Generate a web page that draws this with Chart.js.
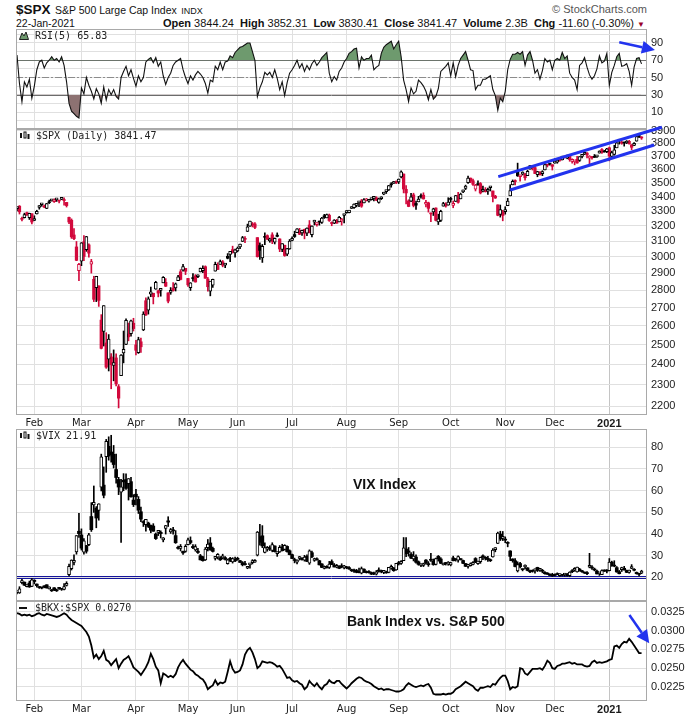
<!DOCTYPE html>
<html>
<head>
<meta charset="utf-8">
<script src="https://cdn.jsdelivr.net/npm/chart.js@4.4.1/dist/chart.umd.min.js"></script>
<style>
  body { margin: 0; width: 700px; height: 717px; position: relative; overflow: hidden; background: #fff;
         font-family: "Liberation Sans", Arial, sans-serif; color: #111; }
  canvas { position: absolute; left: 0; }
  .t { position: absolute; white-space: nowrap; line-height: 14px; }
  .leg { position: absolute; white-space: nowrap; font: 10px "DejaVu Sans Mono", monospace; color: #222; line-height: 12px; }
  .note { position: absolute; white-space: nowrap; font: bold 14px "Liberation Sans", Arial, sans-serif; color: #111; line-height: 16px; }
</style>
</head>
<body>

<div class="t" style="left:16px; top:2px;"><b style="font-size:13.5px">$SPX</b> <span style="font-size:10.5px">S&amp;P 500 Large Cap Index</span> <span style="font-size:9px">INDX</span></div>
<div class="t" style="right:53px; top:2px; font-size:11px; color:#555;">&copy; StockCharts.com</div>
<div class="t" style="left:16px; top:16px; font-size:10.5px;">22-Jan-2021</div>
<div class="t" style="right:55px; top:16px; font-size:11px;"><b>Open</b> 3844.24 &nbsp;<b>High</b> 3852.31 &nbsp;<b>Low</b> 3830.41 &nbsp;<b>Close</b> 3841.47 &nbsp;<b>Volume</b> 2.3B &nbsp;<b>Chg</b> -11.60 (-0.30%) <span style="color:#99002a; font-size:8px;">&#9660;</span></div>

<canvas id="rsi" width="700" height="124" style="top:17px"></canvas>
<canvas id="spx" width="700" height="314" style="top:117px"></canvas>
<canvas id="vix" width="700" height="196" style="top:417px"></canvas>
<canvas id="bkx" width="700" height="128" style="top:589px"></canvas>

<div class="leg" style="left:19px; top:30px;"><svg width="10" height="9" style="vertical-align:-1px"><polygon points="0.5,8.5 3,2 5,5 7,1 9.5,8.5" fill="#6e9a6e" stroke="#222" stroke-width="1"/></svg> RSI(5) 65.83</div>
<div class="leg" style="left:19px; top:130px;"><svg width="11" height="9" style="vertical-align:-1px"><rect x="1" y="2" width="2" height="5" fill="#111"/><rect x="5" y="1" width="2" height="6" fill="none" stroke="#111" stroke-width="1"/><rect x="8.5" y="3" width="2" height="5" fill="#111"/></svg> $SPX (Daily) 3841.47</div>
<div class="leg" style="left:19px; top:430px;"><svg width="11" height="9" style="vertical-align:-1px"><rect x="1" y="2" width="2" height="5" fill="#111"/><rect x="5" y="1" width="2" height="6" fill="none" stroke="#111" stroke-width="1"/><rect x="8.5" y="3" width="2" height="5" fill="#111"/></svg> $VIX 21.91</div>
<div class="leg" style="left:19px; top:602px;"><svg width="10" height="9" style="vertical-align:-1px"><rect x="0" y="4" width="8" height="2" fill="#111"/></svg> $BKX:$SPX 0.0270</div>

<div class="note" style="left:353px; top:476px;">VIX Index</div>
<div class="note" style="left:347px; top:613px;">Bank Index vs. S&amp;P 500</div>

<script>
// Trading days 23-Jan-2020 .. 22-Jan-2021, one bar per day (index 0..252)
const monthStart  = [7, 26, 48, 69, 89, 111, 133, 154, 175, 197, 217, 239];
const monthLabels = ['Feb', 'Mar', 'Apr', 'May', 'Jun', 'Jul', 'Aug', 'Sep', 'Oct', 'Nov', 'Dec', '2021'];

// RSI(5) of $SPX
const rsi5 = [
  76,43,22,45,39,48,26,
  40,59,68,70,61,67,70,74,70,72,68,74,64,45,20,11,8,5,3,
  38,31,50,41,34,25,37,31,20,39,24,36,30,36,28,25,50,57,63,52,59,49,
  40,52,45,50,68,71,73,67,73,63,68,52,42,50,55,64,68,70,72,59,50,
  43,52,47,53,57,54,50,43,32,47,45,63,59,68,59,68,69,75,73,79,
  82,85,86,88,90,90,80,70,28,38,45,56,53,56,50,59,49,36,45,29,44,55,
  59,64,70,61,66,57,64,59,66,70,64,68,73,76,79,55,45,51,47,57,61,68,
  72,78,80,83,84,61,74,70,72,72,76,59,62,64,78,85,88,90,92,83,88,
  92,74,47,36,22,38,31,34,47,44,40,34,24,36,25,28,37,57,60,63,67,
  52,67,51,64,72,76,80,70,59,58,36,41,41,48,48,50,52,36,29,12,26,22,
  34,59,71,77,77,79,77,80,64,76,80,70,55,59,48,58,72,68,70,59,
  70,72,70,79,72,75,55,50,47,36,64,67,73,62,53,48,52,60,75,67,69,78,
  41,56,64,74,78,63,64,66,57,41,62,72,73,65.83
];
const rsiLevels = [70, 50, 30];
const rsiTicks = [0, 10, 20, 30, 40, 50, 60, 70, 80, 90, 100];

// $SPX daily [open, high, low, close]
const spxOHLC = [
  [3317,3327,3302,3326],[3334,3338,3280,3295],[3248,3259,3234,3244],[3255,3286,3253,3276],[3289,3293,3271,3273],[3256,3286,3243,3284],[3282,3282,3214,3226],
  [3236,3268,3236,3249],[3280,3306,3280,3298],[3325,3338,3313,3335],[3344,3348,3333,3346],[3336,3342,3323,3328],[3319,3353,3317,3352],[3365,3376,3352,3358],
  [3371,3381,3369,3379],[3365,3385,3360,3374],[3378,3381,3367,3380],[3370,3375,3356,3370],[3381,3394,3379,3386],[3380,3393,3341,3373],[3360,3360,3328,3338],
  [3257,3259,3215,3226],[3238,3247,3118,3128],[3140,3183,3109,3116],[3063,3098,2977,2979],[2916,2960,2855,2954],
  [2974,3091,2946,3090],[3096,3137,2977,3003],[3046,3131,3035,3130],[3076,3083,2999,3024],[2955,2985,2901,2972],[2864,2882,2734,2747],[2814,2882,2734,2882],
  [2825,2825,2707,2741],[2631,2661,2478,2481],[2570,2711,2493,2711],[2509,2563,2380,2386],[2426,2553,2367,2529],[2437,2454,2281,2398],[2394,2473,2319,2409],
  [2432,2453,2295,2305],[2291,2301,2192,2237],[2344,2449,2344,2447],[2458,2572,2407,2476],[2501,2638,2500,2630],[2556,2615,2520,2541],[2558,2631,2545,2627],
  [2614,2641,2572,2585],
  [2499,2523,2447,2471],[2459,2539,2455,2527],[2515,2534,2460,2489],[2578,2677,2574,2664],[2739,2756,2657,2659],[2686,2761,2664,2750],[2776,2818,2762,2790],
  [2782,2782,2721,2762],[2805,2852,2805,2846],[2796,2801,2761,2783],[2799,2807,2765,2800],[2843,2880,2843,2875],[2846,2868,2821,2823],[2784,2785,2727,2737],
  [2787,2815,2776,2799],[2810,2844,2794,2798],[2813,2842,2795,2837],[2855,2887,2855,2878],[2909,2922,2860,2863],[2918,2955,2913,2940],[2930,2930,2892,2912],
  [2869,2869,2822,2831],[2815,2844,2798,2843],[2868,2898,2853,2868],[2884,2892,2847,2848],[2879,2891,2873,2881],[2908,2932,2908,2930],[2915,2945,2904,2930],
  [2940,2945,2870,2870],[2865,2875,2794,2820],[2794,2852,2767,2853],[2829,2865,2816,2864],[2913,2968,2913,2954],[2949,2964,2922,2923],[2954,2981,2954,2972],
  [2970,2978,2939,2949],[2949,2957,2934,2955],[3004,3021,2988,2992],[3016,3036,2970,3036],[3046,3068,3024,3030],[3026,3050,2999,3044],
  [3038,3063,3032,3056],[3064,3081,3052,3081],[3098,3131,3098,3123],[3112,3129,3090,3112],[3163,3212,3163,3194],[3199,3233,3197,3232],[3213,3223,3193,3207],
  [3213,3223,3182,3190],[3123,3123,2999,3002],[3072,3089,2984,3041],[2994,3079,2966,3067],[3131,3154,3077,3125],[3136,3141,3109,3113],[3101,3120,3093,3115],
  [3141,3155,3084,3098],[3094,3121,3082,3118],[3139,3154,3128,3131],[3114,3116,3033,3050],[3047,3084,3033,3084],[3074,3074,3004,3009],[3018,3054,3008,3053],
  [3050,3111,3048,3100],
  [3105,3128,3101,3116],[3143,3165,3124,3130],[3155,3182,3155,3180],[3166,3184,3142,3145],[3154,3172,3137,3170],[3177,3179,3115,3152],[3152,3187,3136,3185],
  [3206,3236,3154,3155],[3142,3200,3128,3198],[3225,3238,3206,3227],[3208,3221,3198,3216],[3225,3233,3205,3225],[3224,3258,3216,3252],[3268,3278,3250,3257],
  [3254,3280,3254,3276],[3272,3280,3230,3236],[3219,3227,3201,3216],[3219,3242,3215,3239],[3234,3244,3218,3218],[3227,3264,3227,3258],[3232,3251,3205,3246],
  [3270,3272,3220,3271],
  [3289,3303,3285,3295],[3289,3306,3287,3307],[3318,3330,3318,3328],[3323,3351,3318,3349],[3340,3353,3329,3351],[3357,3364,3331,3360],[3370,3381,3326,3334],
  [3356,3387,3356,3380],[3372,3388,3370,3373],[3368,3378,3362,3373],[3380,3388,3376,3382],[3388,3395,3371,3390],[3392,3400,3372,3375],[3360,3391,3355,3386],
  [3386,3400,3380,3397],[3419,3432,3414,3431],[3436,3444,3423,3444],[3449,3481,3444,3479],[3486,3501,3468,3485],[3495,3510,3496,3508],[3509,3514,3494,3500],
  [3507,3528,3494,3527],[3543,3588,3535,3581],[3564,3565,3427,3455],[3453,3479,3349,3427],[3371,3379,3330,3332],[3369,3425,3366,3399],[3413,3425,3329,3339],
  [3353,3369,3311,3341],[3364,3403,3364,3384],[3408,3420,3389,3401],[3411,3428,3383,3385],[3347,3375,3328,3357],[3357,3362,3293,3319],[3285,3286,3229,3281],
  [3295,3320,3270,3316],[3321,3323,3233,3237],[3226,3279,3209,3247],[3236,3306,3229,3298],[3334,3361,3334,3352],[3350,3358,3327,3335],[3341,3393,3341,3363],
  [3385,3397,3361,3381],[3339,3370,3323,3348],[3367,3409,3367,3409],[3408,3432,3354,3361],[3385,3426,3385,3419],[3434,3447,3428,3447],[3459,3483,3451,3477],
  [3500,3550,3496,3534],[3534,3535,3501,3512],[3515,3527,3480,3489],[3453,3489,3441,3483],[3494,3515,3482,3484],[3494,3502,3420,3427],[3439,3476,3435,3443],
  [3440,3465,3433,3436],[3439,3461,3416,3453],[3464,3466,3441,3465],[3441,3441,3364,3401],[3404,3410,3388,3391],[3343,3343,3268,3271],[3278,3342,3259,3310],
  [3293,3305,3234,3270],
  [3296,3330,3279,3310],[3337,3389,3337,3369],[3406,3486,3406,3443],[3485,3521,3485,3510],[3509,3521,3484,3509],[3583,3646,3547,3551],[3544,3557,3511,3546],
  [3564,3581,3557,3573],[3563,3569,3519,3537],[3553,3593,3553,3585],[3601,3628,3601,3627],[3610,3624,3594,3610],[3612,3619,3567,3568],[3559,3585,3544,3582],
  [3580,3581,3557,3558],[3567,3589,3552,3578],[3594,3643,3594,3635],[3635,3635,3617,3630],[3639,3644,3630,3638],[3634,3634,3594,3622],
  [3645,3679,3645,3662],[3654,3670,3645,3669],[3669,3683,3660,3667],[3671,3699,3670,3699],[3694,3698,3684,3692],[3683,3708,3679,3702],[3705,3712,3660,3673],
  [3659,3678,3645,3668],[3656,3665,3633,3663],[3675,3698,3645,3647],[3666,3695,3659,3695],[3697,3711,3685,3701],[3714,3725,3711,3722],[3723,3726,3685,3709],
  [3684,3703,3637,3695],[3693,3698,3676,3687],[3693,3712,3689,3690],[3694,3704,3689,3703],[3723,3741,3723,3735],[3751,3757,3720,3727],[3737,3744,3730,3732],
  [3734,3760,3726,3756],
  [3764,3770,3663,3701],[3698,3738,3696,3727],[3712,3784,3706,3748],[3764,3812,3764,3804],[3816,3827,3793,3825],[3803,3818,3792,3800],[3801,3810,3777,3801],
  [3802,3821,3797,3810],[3815,3823,3792,3796],[3788,3789,3749,3768],[3782,3805,3780,3799],[3816,3860,3816,3852],[3857,3861,3845,3853],[3844.24,3852.31,3830.41,3841.47]
];
const spxTicks = [2200,2300,2400,2500,2600,2700,2800,2900,3000,3100,3200,3300,3400,3500,3600,3700,3800,3900];
// hand-drawn channel, [bar index, price]
const channelUpper = [[194.2, 3545], [260.2, 3928]];
const channelLower = [[199.0, 3448], [257.1, 3786]];

// $VIX daily [open, high, low, close]
const vixOHLC = [
  [12.9,13.6,12.3,13.0],[12.7,15.6,12.5,14.6],[17.5,19.0,16.9,18.2],[17.7,17.8,16.1,16.3],[15.6,16.5,15.5,16.4],[17.3,18.2,15.3,15.5],[15.7,19.4,15.6,18.8],
  [18.6,18.8,16.9,18.0],[16.8,16.9,15.4,16.1],[15.3,15.7,14.8,15.2],[15.0,15.4,14.6,15.0],[15.6,16.1,15.1,15.5],[16.5,16.5,15.0,15.0],[14.6,15.5,14.5,15.2],
  [14.2,14.3,13.4,13.7],[15.1,15.2,13.8,14.2],[14.0,14.5,13.4,13.7],[14.9,15.3,14.4,14.8],[14.4,14.6,13.9,14.4],[14.4,17.0,14.1,15.6],[16.2,17.9,15.9,17.1],
  [21.1,26.0,20.6,25.0],[23.9,28.0,23.3,27.9],[26.8,30.3,25.6,27.6],[31.6,39.2,30.6,39.2],[41.2,49.5,38.4,40.1],
  [39.5,42.3,32.5,33.4],[31.5,37.8,30.6,36.8],[34.6,34.7,31.1,32.0],[35.0,40.2,34.5,39.6],[48.0,54.4,41.1,41.9],[53.3,62.1,49.9,54.5],[51.9,52.6,42.8,47.3],
  [50.8,53.9,46.3,53.9],[61.5,76.8,59.8,75.5],[62.5,70.9,56.6,57.8],[75.6,83.6,68.4,82.7],[80.4,84.8,74.0,75.9],[77.8,85.5,73.1,76.5],[76.7,80.8,70.4,72.0],
  [69.7,76.8,63.4,66.0],[65.1,66.1,58.1,61.6],[59.2,65.2,36.0,61.7],[64.7,67.8,59.9,64.0],[65.1,67.7,60.5,61.0],[63.2,65.5,55.6,65.5],[64.1,66.1,56.9,57.1],
  [55.6,58.1,52.6,53.5],
  [58.3,60.6,53.4,57.1],[55.9,57.2,49.4,50.9],[50.2,52.4,45.6,46.8],[45.6,46.1,43.4,45.2],[44.2,46.7,41.2,46.7],[45.0,45.4,42.9,43.4],[43.9,44.1,40.5,41.7],
  [43.6,44.7,41.2,41.2],[39.9,40.4,37.4,37.8],[40.7,41.6,39.2,40.8],[40.7,41.4,38.1,40.1],[37.2,38.3,36.3,38.2],[42.5,43.9,39.9,43.8],[46.0,47.9,43.4,45.4],
  [40.9,42.5,40.2,42.0],[41.4,43.0,39.9,41.4],[39.2,41.5,35.6,35.9],[33.8,34.3,32.9,33.3],[33.3,35.1,32.1,33.6],[31.9,32.0,30.5,31.2],[31.9,35.0,31.5,34.2],
  [35.0,38.0,34.9,37.2],[36.9,38.6,35.3,36.0],[34.2,35.0,33.2,33.6],[32.6,35.0,32.0,34.1],[32.0,33.3,31.0,31.4],[29.9,30.5,27.9,28.0],[29.3,29.6,27.4,27.6],
  [28.0,33.7,27.7,33.0],[33.6,37.4,32.1,35.3],[35.8,38.3,32.4,32.6],[33.3,33.9,31.6,31.9],[28.7,29.5,27.9,29.3],[29.2,30.9,28.4,30.5],[28.9,29.5,27.7,28.0],
  [28.9,30.6,28.4,29.5],[29.0,29.5,27.9,28.2],[26.2,28.4,26.0,28.0],[28.7,29.2,27.1,27.6],[27.0,29.0,26.5,28.6],[28.2,29.3,27.2,27.5],
  [28.7,29.2,27.8,28.2],[27.6,27.8,26.8,26.8],[26.7,27.2,25.2,25.7],[25.9,27.3,25.5,25.8],[24.1,25.0,23.9,24.5],[25.7,26.2,24.1,25.8],[26.7,28.1,26.1,27.6],
  [26.9,28.1,26.8,27.6],[30.1,41.1,29.8,40.8],[38.7,44.4,34.8,36.1],[39.1,43.8,33.6,34.4],[31.4,35.9,31.2,33.7],[32.9,34.2,32.0,33.5],[33.5,34.5,32.3,32.9],
  [32.3,35.9,31.7,35.1],[34.4,34.5,31.6,31.8],[30.9,31.6,29.6,31.4],[31.6,34.6,31.4,33.8],[34.0,35.2,32.1,32.2],[32.8,35.0,32.5,34.7],[34.2,34.5,31.5,31.8],
  [32.2,32.6,30.3,30.4],
  [30.4,30.7,28.5,28.6],[28.0,28.8,26.6,27.7],[26.9,28.0,26.1,27.9],[28.6,29.6,27.9,29.4],[28.7,29.0,27.9,28.1],[27.8,30.1,27.4,29.3],[29.6,30.3,27.2,27.3],
  [26.5,32.6,25.9,32.2],[31.3,32.0,29.0,29.5],[27.7,28.8,27.3,27.8],[28.4,28.9,27.8,28.0],[27.6,27.8,25.6,25.7],[26.1,26.3,24.4,24.5],[24.0,25.2,23.8,24.8],
  [25.0,25.3,24.2,24.3],[24.5,27.3,24.0,26.1],[27.2,28.0,25.8,25.8],[25.6,26.3,24.7,24.7],[24.6,25.9,24.3,25.4],[25.1,25.3,23.9,24.1],[25.3,26.2,24.3,24.8],
  [24.3,25.5,23.8,24.5],
  [24.6,25.0,23.9,24.3],[24.4,24.9,23.6,23.8],[23.5,23.7,22.6,23.0],[23.3,23.7,22.2,22.7],[23.1,23.6,22.0,22.2],[22.6,24.2,22.0,22.1],[21.9,24.7,21.5,24.0],
  [23.7,23.8,22.1,22.3],[22.2,22.9,21.9,22.1],[22.6,23.0,21.9,22.1],[22.1,22.4,21.2,21.4],[21.5,22.4,21.1,21.5],[21.4,23.1,21.0,22.5],[23.3,24.3,22.3,22.7],
  [22.5,23.3,22.0,22.5],[22.2,23.1,21.6,22.4],[22.4,22.8,21.8,22.0],[22.2,24.5,22.0,24.5],[24.1,25.6,23.6,24.5],[24.2,24.5,22.7,23.0],[23.4,26.4,23.2,26.4],
  [26.7,27.3,25.6,26.1],[26.4,27.7,25.9,26.6],[27.6,38.3,27.6,33.6],[33.0,38.3,29.5,30.8],[32.1,33.7,29.7,31.5],[30.5,31.3,28.5,28.8],[28.4,31.8,27.5,29.7],
  [29.3,30.3,26.5,26.9],[27.1,27.5,25.5,25.9],[25.4,26.0,24.9,25.6],[25.4,26.5,24.9,26.0],[27.9,28.1,26.0,26.5],[26.2,27.2,25.0,25.8],[27.9,31.0,27.3,27.8],
  [27.4,28.4,25.5,25.8],[25.9,28.8,25.6,28.6],[29.6,30.0,27.4,28.5],[28.4,29.0,26.3,26.4],[25.6,26.5,25.6,26.2],[26.4,26.8,25.6,26.3],[26.0,27.2,25.5,26.4],
  [25.7,26.9,25.2,26.7],[28.9,29.7,27.5,27.6],[28.5,28.6,27.4,28.0],[27.9,29.8,26.9,29.5],[28.5,28.6,27.9,28.1],[27.7,27.9,26.2,26.4],[26.3,26.3,24.9,25.0],
  [25.0,25.4,24.2,25.1],[25.3,26.6,25.1,26.1],[25.9,27.2,25.7,26.4],[28.6,29.0,26.7,27.0],[26.2,27.4,25.9,27.4],[27.1,29.3,26.4,29.2],[29.4,30.3,28.1,29.4],
  [29.0,29.5,27.9,28.7],[28.7,29.6,27.3,28.1],[28.0,28.4,27.2,27.6],[29.4,33.2,29.2,32.5],[32.7,33.6,31.7,33.4],[35.6,40.8,35.5,40.3],[39.9,41.2,36.9,37.6],
  [37.9,41.1,36.9,38.0],
  [37.2,38.6,35.9,37.1],[35.9,36.4,34.0,35.6],[32.1,32.2,27.6,29.6],[28.4,28.5,26.9,27.6],[27.6,28.6,24.7,24.9],[22.9,27.1,22.4,25.8],[26.3,26.8,24.3,24.8],
  [23.6,23.8,22.9,23.5],[24.7,25.7,23.8,25.4],[24.3,24.4,22.9,23.1],[22.5,23.3,22.1,22.5],[22.7,23.4,22.3,22.7],[22.9,23.9,21.8,23.8],[24.5,24.6,22.6,23.1],
  [23.2,24.0,22.7,23.7],[22.7,23.6,22.0,22.7],[22.2,22.6,21.4,21.6],[21.9,22.1,21.3,21.3],[21.4,21.5,20.8,20.8],[21.2,21.8,20.3,20.6],
  [20.9,21.5,20.5,20.8],[21.6,22.0,21.1,21.2],[20.7,21.5,20.3,21.3],[21.1,21.3,20.5,20.8],[21.0,21.4,20.4,21.3],[21.5,21.7,20.4,20.7],[20.7,22.5,20.2,22.3],
  [23.0,23.5,22.1,22.5],[23.2,24.4,22.7,23.3],[22.4,24.7,22.3,24.7],[23.7,24.1,22.8,22.9],[22.5,23.2,22.2,22.5],[22.0,22.4,21.7,21.9],[22.1,22.6,21.2,21.6],
  [24.6,31.0,24.3,25.2],[24.5,25.4,23.6,24.2],[23.7,24.2,22.9,23.3],[22.8,23.3,21.5,21.5],[21.5,21.9,20.8,21.7],[21.2,23.4,21.1,23.1],[23.3,23.4,22.6,22.8],
  [23.0,23.5,22.0,22.8],
  [23.0,28.6,22.9,27.0],[26.9,27.4,25.0,25.3],[25.5,27.6,24.8,25.1],[24.4,24.9,22.3,22.4],[22.5,23.1,21.5,21.6],[23.5,24.6,22.6,24.1],[24.1,25.0,23.3,23.3],
  [23.1,23.3,22.1,22.2],[22.2,23.3,21.9,23.3],[24.0,25.8,23.9,24.3],[23.6,24.0,22.9,23.2],[22.2,22.4,21.4,21.6],[21.4,21.8,20.6,21.3],[21.9,23.2,21.6,21.91]
];
const vixTicks = [20, 30, 40, 50, 60, 70, 80];
const vixLines = [20.7, 19.5];

// $BKX:$SPX ratio, daily close
const bkxSpx = [
  .0323,.0322,.0320,.0321,.0320,.0321,.0319,
  .0320,.0322,.0323,.0321,.0320,.0322,.0321,.0320,.0319,.0318,.0319,.0321,.0323,.0321,.0317,.0314,.0312,.0310,.0308,
  .0306,.0302,.0298,.0292,.0280,.0264,.0268,.0262,.0266,.0273,.0261,.0259,.0254,.0258,.0262,.0250,.0256,.0261,.0263,.0266,.0259,.0251,
  .0248,.0245,.0241,.0246,.0251,.0258,.0269,.0262,.0252,.0247,.0230,.0243,.0241,.0238,.0240,.0238,.0242,.0251,.0257,.0261,.0256,
  .0252,.0248,.0246,.0242,.0240,.0237,.0235,.0230,.0222,.0225,.0227,.0234,.0228,.0231,.0230,.0232,.0245,.0259,.0249,.0244,
  .0245,.0247,.0255,.0268,.0274,.0277,.0271,.0262,.0250,.0253,.0259,.0258,.0257,.0258,.0257,.0255,.0252,.0253,.0249,.0243,.0237,.0238,
  .0234,.0232,.0233,.0230,.0228,.0222,.0225,.0233,.0229,.0226,.0230,.0225,.0222,.0227,.0229,.0234,.0231,.0230,.0233,.0233,.0229,.0226,
  .0223,.0226,.0230,.0233,.0236,.0238,.0237,.0234,.0232,.0231,.0229,.0226,.0224,.0222,.0223,.0221,.0222,.0222,.0221,.0220,.0219,
  .0219,.0220,.0222,.0227,.0230,.0228,.0226,.0225,.0226,.0227,.0226,.0228,.0229,.0224,.0216,.0215,.0215,.0215,.0216,.0215,.0216,
  .0216,.0218,.0222,.0224,.0226,.0229,.0232,.0230,.0228,.0226,.0222,.0220,.0224,.0224,.0225,.0226,.0225,.0229,.0228,.0233,.0237,.0240,
  .0240,.0233,.0222,.0225,.0224,.0226,.0250,.0249,.0243,.0241,.0245,.0249,.0249,.0249,.0250,.0248,.0253,.0260,.0257,.0250,
  .0249,.0253,.0254,.0256,.0256,.0257,.0258,.0256,.0257,.0255,.0255,.0255,.0253,.0252,.0253,.0258,.0260,.0257,.0258,.0257,.0258,.0259,
  .0261,.0262,.0279,.0280,.0277,.0282,.0285,.0284,.0289,.0285,.0280,.0275,.0270,.0270
];
const bkxTicks = [0.0225, 0.0250, 0.0275, 0.0300, 0.0325];

// arrows drawn on the chart, [bar index, value]
const rsiArrow = { from: [243.0, 90.8], to: [257.4, 81.9] };
const bkxArrow = { from: [247.1, 0.03206], to: [255.1, 0.0283] };

const RED = '#d2093c';
const BLUE = '#2233ee';
const GRID = '#e0e0e0';

Chart.defaults.font.family = '"Liberation Sans", Arial, sans-serif';
Chart.defaults.animation = false;
Chart.defaults.plugins.legend.display = false;
Chart.defaults.plugins.tooltip.enabled = false;

// panel frame
const frame = {
  id: 'frame',
  afterDraw(chart) {
    const { ctx, chartArea: a } = chart;
    ctx.save();
    ctx.strokeStyle = '#a9a9a9';
    ctx.lineWidth = 1;
    ctx.strokeRect(Math.round(a.left) + 0.5, Math.round(a.top) + 0.5, Math.round(a.width) - 1, Math.round(a.height) - 1);
    ctx.restore();
  }
};

// horizontal reference lines
const hlines = {
  id: 'hlines',
  beforeDatasetsDraw(chart, args, opts) {
    const { ctx, chartArea: a, scales: { y } } = chart;
    (opts.lines || []).forEach(l => {
      const py = Math.round(y.getPixelForValue(l.value)) + 0.5;
      ctx.save();
      ctx.strokeStyle = l.color;
      ctx.lineWidth = 1;
      ctx.setLineDash(l.dash || []);
      ctx.beginPath();
      ctx.moveTo(a.left, py);
      ctx.lineTo(a.right, py);
      ctx.stroke();
      ctx.restore();
    });
  }
};

// annotation arrows and trend lines (in data units), drawn on top, not clipped
const arrows = {
  id: 'arrows',
  afterDraw(chart, args, opts) {
    const { ctx, scales: { x, y } } = chart;
    ctx.save();
    ctx.strokeStyle = ctx.fillStyle = BLUE;
    ctx.lineCap = 'butt';
    (opts.lines || []).forEach(seg => {
      ctx.lineWidth = 3;
      ctx.beginPath();
      ctx.moveTo(x.getPixelForValue(seg[0][0]), y.getPixelForValue(seg[0][1]));
      ctx.lineTo(x.getPixelForValue(seg[1][0]), y.getPixelForValue(seg[1][1]));
      ctx.stroke();
    });
    (opts.list || []).forEach(ar => {
      const x1 = x.getPixelForValue(ar.from[0]), y1 = y.getPixelForValue(ar.from[1]);
      const x2 = x.getPixelForValue(ar.to[0]), y2 = y.getPixelForValue(ar.to[1]);
      const ang = Math.atan2(y2 - y1, x2 - x1);
      const head = 13, half = 6.5;
      const bx = x2 - head * Math.cos(ang), by = y2 - head * Math.sin(ang);
      ctx.lineWidth = 2.5;
      ctx.beginPath();
      ctx.moveTo(x1, y1);
      ctx.lineTo(bx, by);
      ctx.stroke();
      ctx.beginPath();
      ctx.moveTo(x2, y2);
      ctx.lineTo(bx - half * Math.sin(ang), by + half * Math.cos(ang));
      ctx.lineTo(bx + half * Math.sin(ang), by - half * Math.cos(ang));
      ctx.closePath();
      ctx.fill();
    });
    ctx.restore();
  }
};

function xAxis(withLabels) {
  return {
    type: 'linear', min: -0.4, max: 254.2, bounds: 'data', offset: false,
    afterBuildTicks: s => { s.ticks = monthStart.map(v => ({ value: v })); },
    afterFit: s => { s.height = withLabels ? 16 : 0; },
    grid: { offset: false, drawTicks: false, color: c => (c.tick && c.tick.value === 239) ? '#c4c4c4' : GRID },
    border: { display: false },
    ticks: {
      display: withLabels, autoSkip: false, maxRotation: 0, padding: 2, color: '#1a1a1a',
      font: c => (c.tick && c.tick.value === 239)
        ? { family: '"Liberation Sans", Arial, sans-serif', size: 11, weight: 'bold' }
        : { family: '"DejaVu Sans", sans-serif', size: 10 },
      callback: v => monthLabels[monthStart.indexOf(v)]
    }
  };
}

function yAxis(type, min, max, tickList, label) {
  return {
    type: type, position: 'right', min: min, max: max, bounds: 'data',
    afterBuildTicks: s => { s.ticks = tickList.map(v => ({ value: v })); },
    afterFit: s => { s.width = 53; },
    grid: { drawTicks: false, color: GRID },
    border: { display: false },
    ticks: { padding: 4, color: '#222', font: { size: 11 }, autoSkip: false, callback: label }
  };
}

function baseOptions(xLabels, yScale, plugins) {
  return {
    responsive: false,
    events: [],
    layout: { padding: { left: 16, right: 0, top: 12, bottom: xLabels ? 0 : 12 } },
    scales: { x: xAxis(xLabels), y: yScale },
    plugins: plugins || {}
  };
}

// candles built as floating bars: wick [low, high], body [open, close]
function candleSets(bars, stroke, solidWidth) {
  const wick = [], wickC = [], solid = [], solidC = [], hollow = [], hollowC = [];
  bars.forEach((d, i) => {
    const [o, h, l, c] = d;
    wick.push({ x: i, y: [l, h] }); wickC.push(stroke[i]);
    if (c > o) { hollow.push({ x: i, y: [o, c] }); hollowC.push(stroke[i]); }
    else { solid.push({ x: i, y: [c, o] }); solidC.push(stroke[i]); }
  });
  return [
    { data: wick, backgroundColor: wickC, barThickness: 1, grouped: false, order: 3 },
    { data: solid, backgroundColor: solidC, barThickness: solidWidth, minBarLength: 1, grouped: false, order: 2 },
    { data: hollow, backgroundColor: '#fff', borderColor: hollowC, borderWidth: 1, borderSkipped: false,
      barThickness: 3, minBarLength: 2, grouped: false, order: 1 }
  ];
}

// ---- RSI(5)
const rsiPts = rsi5.map((v, i) => ({ x: i, y: v }));
new Chart(document.getElementById('rsi'), {
  type: 'line',
  data: {
    datasets: [
      { data: rsiPts, borderColor: '#111', borderWidth: 1.1, pointRadius: 0, tension: 0, order: 0,
        fill: { target: { value: rsiLevels[0] }, above: '#6e9a6e', below: 'rgba(0,0,0,0)' } },
      { data: rsiPts, borderColor: 'rgba(0,0,0,0)', borderWidth: 0, pointRadius: 0, tension: 0, order: 1,
        fill: { target: { value: rsiLevels[2] }, above: 'rgba(0,0,0,0)', below: '#8d7272' } }
    ]
  },
  options: baseOptions(false,
    yAxis('linear', -9.7, 106.2, rsiTicks, v => (v % 20 === 10 ? String(v) : '')),
    { hlines: { lines: [
        { value: rsiLevels[0], color: '#6c6c6c' },
        { value: rsiLevels[1], color: '#8c8c8c', dash: [7, 2, 2, 2] },
        { value: rsiLevels[2], color: '#6c6c6c' } ] },
      arrows: { list: [rsiArrow] } }),
  plugins: [hlines, frame, arrows]
});

// ---- $SPX candles with channel lines
const spxStroke = spxOHLC.map((d, i) => (d[3] >= (i ? spxOHLC[i - 1][3] : d[0]) ? '#000' : RED));
new Chart(document.getElementById('spx'), {
  type: 'bar',
  data: { datasets: candleSets(spxOHLC, spxStroke, 2.6) },
  options: baseOptions(true, yAxis('logarithmic', 2160, 3914, spxTicks, v => String(v)),
    { arrows: { lines: [channelUpper, channelLower] } }),
  plugins: [frame, arrows]
});

// ---- $VIX candles
const vixStroke = vixOHLC.map(() => '#000');
new Chart(document.getElementById('vix'), {
  type: 'bar',
  data: { datasets: candleSets(vixOHLC, vixStroke, 3) },
  options: baseOptions(false, yAxis('linear', 9, 88.4, vixTicks, v => String(v)),
    { hlines: { lines: vixLines.map(v => ({ value: v, color: '#14149a' })) } }),
  plugins: [hlines, frame]
});

// ---- $BKX:$SPX
new Chart(document.getElementById('bkx'), {
  type: 'line',
  data: {
    datasets: [
      { data: bkxSpx.map((v, i) => ({ x: i, y: v })), borderColor: '#000', borderWidth: 1.8, pointRadius: 0, tension: 0 }
    ]
  },
  options: baseOptions(true, yAxis('linear', 0.02064, 0.03392, bkxTicks, v => v.toFixed(4)),
    { arrows: { list: [bkxArrow] } }),
  plugins: [frame, arrows]
});
</script>
</body>
</html>
